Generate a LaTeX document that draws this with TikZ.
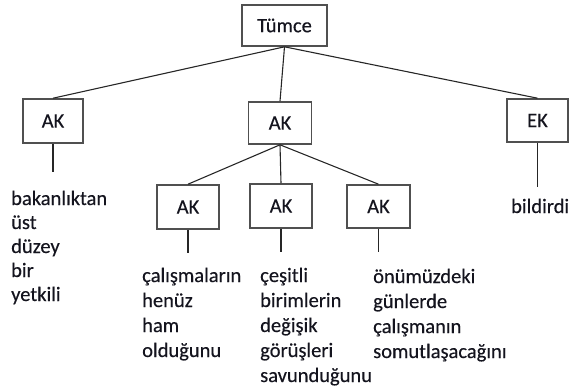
\documentclass[tikz,border=0pt]{standalone}
\usepackage{fontspec}
\setmainfont{Carlito}
% slightly emboldened regular weight for all labels
\newfontfamily\wordfont{Carlito}[FakeBold=0.3]
\definecolor{boxgray}{HTML}{505050}
\definecolor{ink}{HTML}{14141E}
\begin{document}
\begin{tikzpicture}[x=1pt,y=-1pt,
  cat/.style={draw=boxgray, line width=1.6pt, fill=white, inner sep=0pt,
    text=ink, font=\wordfont\fontsize{20.5}{24}\selectfont},
  edge/.style={line width=1.1pt, draw=black!85},
  % a word group is placed by the baseline of its last line
  words/.style={anchor=base west, align=left, inner sep=0pt, text=ink,
    font=\wordfont\fontsize{20.5}{25}\selectfont}]
\useasboundingbox (0,0) rectangle (570,391);

% category boxes
\node[cat, minimum width=85pt, minimum height=41pt] (T)  at (284.5,25.5) {Tümce};
\node[cat, minimum width=60pt, minimum height=44pt] (L)  at (53,121)     {AK};
\node[cat, minimum width=63pt, minimum height=42pt] (M)  at (280,123)    {AK};
\node[cat, minimum width=61pt, minimum height=43pt] (E)  at (537.5,120.5) {EK};
\node[cat, minimum width=62pt, minimum height=44pt] (C1) at (188,207)    {AK};
\node[cat, minimum width=62pt, minimum height=44pt] (C2) at (281,206)    {AK};
\node[cat, minimum width=63pt, minimum height=43pt] (C3) at (378.5,206.5) {AK};

% branches
\draw[edge] (T.south) -- (L.north);
\draw[edge] (T.south) -- (M.north);
\draw[edge] (T.south) -- (E.north);
\draw[edge] (M.south) -- (C1.north);
\draw[edge] (M.south) -- (C2.north);
\draw[edge] (M.south) -- (C3.north);

% stems down to the words
\coordinate (sL)  at (53,172);
\coordinate (sC1) at (188,253);
\coordinate (sC2) at (281,252);
\coordinate (sC3) at (378.5,252);
\coordinate (sE)  at (537.5,187);
\draw[edge] (L.south)  -- (sL);
\draw[edge] (C1.south) -- (sC1);
\draw[edge] (C2.south) -- (sC2);
\draw[edge] (C3.south) -- (sC3);
\draw[edge] (E.south)  -- (sE);

% word groups
\node[words, font=\wordfont\fontsize{20.5}{24}\selectfont] (wL) at (11,301)
  {bakanlıktan\\üst\\düzey\\bir\\yetkili};
\node[words] (w1) at (142,357) {çalışmaların\\henüz\\ham\\olduğunu};
\node[words] (w2) at (260,382) {çeşitli\\birimlerin\\değişik\\görüşleri\\savunduğunu};
\node[words] (w3) at (373,358) {önümüzdeki\\günlerde\\çalışmanın\\somutlaşacağını};
\node[words] (wE) at (511,213) {bildirdi};
\end{tikzpicture}
\end{document}
